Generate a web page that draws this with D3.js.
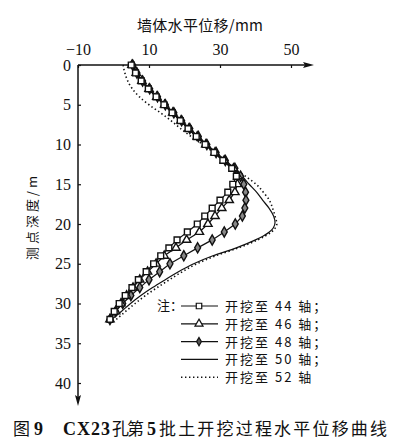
<!doctype html>
<html>
<head>
<meta charset="utf-8">
<title>CX23 horizontal displacement</title>
<script src="https://d3js.org/d3.v7.min.js"></script>
<style>
  body { margin: 0; background: #fff; }
  svg { display: block; }
  text { font-family: 'Liberation Serif', 'Noto Sans CJK SC', serif; fill: #111; }
  .cjk { font-family: 'Noto Sans CJK SC', sans-serif; }
</style>
</head>
<body>
<svg width="397" height="448"></svg>
<script>
// depth (m) at each measuring point
var depth = d3.range(0, 33);

// wall horizontal displacement (mm), excavation to axis 44 / 46 / 48
var s44 = [5.0, 6.2, 7.8, 9.8, 12.0, 14.2, 16.5, 18.8, 21.0, 23.3, 25.8, 28.3, 30.8, 33.3, 34.6,
           33.6, 32.2, 30.0, 27.8, 25.7, 23.6, 20.8, 17.9, 15.6, 13.3, 11.3, 9.2, 7.0, 5.2, 3.3, 1.6, 0.2, -1.0];
var s46 = [5.2, 6.4, 8.0, 10.0, 12.2, 14.4, 16.7, 19.0, 21.2, 23.6, 26.0, 28.6, 31.2, 33.8, 35.0,
           34.9, 34.2, 32.6, 30.5, 28.6, 26.6, 24.2, 20.6, 17.6, 14.3, 12.0, 9.6, 7.4, 5.5, 3.7, 2.1, 0.6, -1.0];
var s48 = [5.4, 6.6, 8.2, 10.2, 12.4, 14.6, 17.0, 19.2, 21.5, 23.9, 26.3, 28.9, 31.5, 34.2, 35.8,
           36.7, 37.2, 37.3, 37.0, 36.3, 34.3, 31.2, 27.8, 23.7, 19.8, 15.9, 13.0, 10.0, 7.4, 4.9, 2.6, 0.6, -1.0];

// axis 50 (solid) and axis 52 (dotted) curves, no markers
var d50 = [0, 1, 2, 3, 4, 5, 6, 7, 8, 9, 10, 11, 12, 13, 14, 15, 16, 17, 18, 19, 19.8, 20.5, 21, 21.5, 22,
           23, 24, 25, 26, 27, 28, 29, 30, 31, 32];
var s50 = [5.0, 6.2, 7.8, 9.8, 12.0, 14.2, 16.5, 18.8, 21.0, 23.3, 25.8, 28.3, 30.8, 33.4, 36.2, 38.2,
           40.3, 42.0, 43.8, 45.1, 45.5, 45.0, 43.9, 42.2, 40.0, 34.6, 28.0, 22.6, 18.3, 14.6, 11.0, 7.7, 4.8, 2.2, -0.5];
var d52 = [0, 1, 2, 3, 4, 5, 6, 7, 8, 9, 10, 11, 12, 13, 14, 15, 16, 17, 18, 19, 20, 20.6, 21, 22,
           23, 24, 25, 26, 27, 28, 29, 30, 31, 32];
var s52 = [2.7, 3.2, 4.0, 5.3, 7.3, 10.0, 13.2, 16.2, 18.9, 21.9, 25.2, 28.2, 31.0, 34.0, 37.2, 40.2,
           42.2, 43.9, 44.8, 45.5, 46.0, 45.4, 44.5, 40.6, 35.2, 28.8, 23.5, 19.4, 15.8, 12.3, 9.0, 6.1, 3.4, 0.8];

var xTicks = [-10, 10, 30, 50];
var yTicks = [0, 5, 10, 15, 20, 25, 30, 35, 40];
var legendNames = ["开挖至 44 轴；", "开挖至 46 轴；", "开挖至 48 轴；", "开挖至 50 轴；", "开挖至 52 轴"];

var svg = d3.select("svg");

var x = d3.scaleLinear().domain([-10, 50]).range([78, 291]);
var y = d3.scaleLinear().domain([0, 40]).range([65, 383]);

// axes
var xAxis = svg.append("g")
    .attr("transform", "translate(0," + y(0) + ")")
    .call(d3.axisTop(x).tickValues(xTicks).tickSizeInner(-3).tickSizeOuter(0).tickPadding(10));
xAxis.select(".domain").remove();
xAxis.selectAll("text").attr("font-size", 16).style("font-family", "'Liberation Serif', serif");
xAxis.selectAll("line").attr("stroke", "#111").attr("stroke-width", 1.2);

var yAxis = svg.append("g")
    .attr("transform", "translate(" + x(-10) + ",0)")
    .call(d3.axisLeft(y).tickValues(yTicks).tickSizeInner(-3).tickSizeOuter(0).tickPadding(7));
yAxis.select(".domain").remove();
yAxis.selectAll("text").attr("font-size", 16).style("font-family", "'Liberation Serif', serif");
yAxis.selectAll("line").attr("stroke", "#111").attr("stroke-width", 1.2);

// axis lines with arrows
svg.append("line").attr("x1", x(-10)).attr("y1", y(0)).attr("x2", 306).attr("y2", y(0))
    .attr("stroke", "#111").attr("stroke-width", 1.5);
svg.append("path").attr("d", "M314," + y(0) + "L303," + (y(0) - 3) + "L305," + y(0) + "L303," + (y(0) + 3) + "Z")
    .attr("fill", "#111");
svg.append("line").attr("x1", x(-10)).attr("y1", y(0)).attr("x2", x(-10)).attr("y2", 398)
    .attr("stroke", "#111").attr("stroke-width", 1.5);
svg.append("path").attr("d", "M" + x(-10) + ",406L" + (x(-10) - 3) + ",395L" + x(-10) + ",397L" + (x(-10) + 3) + ",395Z")
    .attr("fill", "#111");

// axis titles
svg.append("text").attr("class", "cjk").attr("x", 200).attr("y", 31)
    .attr("text-anchor", "middle").attr("font-size", 15).attr("textLength", 126)
    .text("墙体水平位移/mm");
svg.append("text").attr("class", "cjk")
    .attr("transform", "translate(37,218) rotate(-90)")
    .attr("text-anchor", "middle").attr("font-size", 13).attr("textLength", 84)
    .text("测点深度/m");

// curves
var line = d3.line().x(function (d) { return x(d[0]); }).y(function (d) { return y(d[1]); });
var smooth = d3.line().x(function (d) { return x(d[0]); }).y(function (d) { return y(d[1]); })
    .curve(d3.curveMonotoneY);

function pairs(vals, ds) {
    return vals.map(function (v, i) { return [v, ds[i]]; });
}

svg.append("path").datum(pairs(s52, d52)).attr("d", smooth)
    .attr("fill", "none").attr("stroke", "#111").attr("stroke-width", 1.6)
    .attr("stroke-dasharray", "1.4,2.6");
svg.append("path").datum(pairs(s50, d50)).attr("d", smooth)
    .attr("fill", "none").attr("stroke", "#111").attr("stroke-width", 1.2);

var markerSeries = [
    { vals: s48, sym: d3.symbolDiamond, size: 30, fill: "#888" },
    { vals: s46, sym: d3.symbolTriangle, size: 30, fill: "#fff" },
    { vals: s44, sym: d3.symbolSquare, size: 34, fill: "#fff" }
];

markerSeries.forEach(function (s) {
    var pts = pairs(s.vals, depth);
    svg.append("path").datum(pts).attr("d", line)
        .attr("fill", "none").attr("stroke", "#111").attr("stroke-width", 1.2);
    svg.append("g").selectAll("path").data(pts).enter().append("path")
        .attr("transform", function (d) { return "translate(" + x(d[0]) + "," + y(d[1]) + ")"; })
        .attr("d", d3.symbol().type(s.sym).size(s.size))
        .attr("fill", s.fill).attr("stroke", "#111").attr("stroke-width", 1.4);
});

// legend
var legendSym = [
    { sym: d3.symbolSquare, size: 30, fill: "#fff" },
    { sym: d3.symbolTriangle, size: 28, fill: "#fff" },
    { sym: d3.symbolDiamond, size: 20, fill: "#555" },
    null, null
];
svg.append("text").attr("class", "cjk").attr("x", 157).attr("y", 310).attr("font-size", 13).text("注：");
var lg = svg.append("g").selectAll("g").data(legendNames).enter().append("g")
    .attr("transform", function (d, i) { return "translate(0," + (306 + i * 17.8) + ")"; });
lg.append("line").attr("x1", 181).attr("x2", 218).attr("y1", 0).attr("y2", 0)
    .attr("stroke", "#111").attr("stroke-width", function (d, i) { return i === 4 ? 1.6 : 1.2; })
    .attr("stroke-dasharray", function (d, i) { return i === 4 ? "1.4,2.6" : null; });
lg.each(function (d, i) {
    if (legendSym[i]) {
        d3.select(this).append("path").attr("transform", "translate(199,0)")
            .attr("d", d3.symbol().type(legendSym[i].sym).size(legendSym[i].size))
            .attr("fill", legendSym[i].fill).attr("stroke", "#111").attr("stroke-width", 1.2);
    }
});
lg.append("text").attr("class", "cjk").attr("x", 225).attr("y", 5).attr("font-size", 13)
    .attr("letter-spacing", 2).text(function (d) { return d; });

// caption
var cap = svg.append("g").attr("transform", "translate(0,435)");
cap.append("text").attr("class", "cjk").attr("x", 13).attr("font-size", 17).text("图");
cap.append("text").attr("x", 34).attr("font-size", 18).attr("font-weight", "bold").text("9");
cap.append("text").attr("x", 63).attr("font-size", 18).attr("font-weight", "bold")
    .attr("textLength", 47).text("CX23");
cap.append("text").attr("class", "cjk").attr("x", 112).attr("font-size", 17)
    .attr("textLength", 32).text("孔第");
cap.append("text").attr("x", 147).attr("font-size", 18).attr("font-weight", "bold").text("5");
cap.append("text").attr("class", "cjk").attr("x", 159).attr("font-size", 17)
    .attr("textLength", 228).text("批土开挖过程水平位移曲线");
</script>
</body>
</html>
